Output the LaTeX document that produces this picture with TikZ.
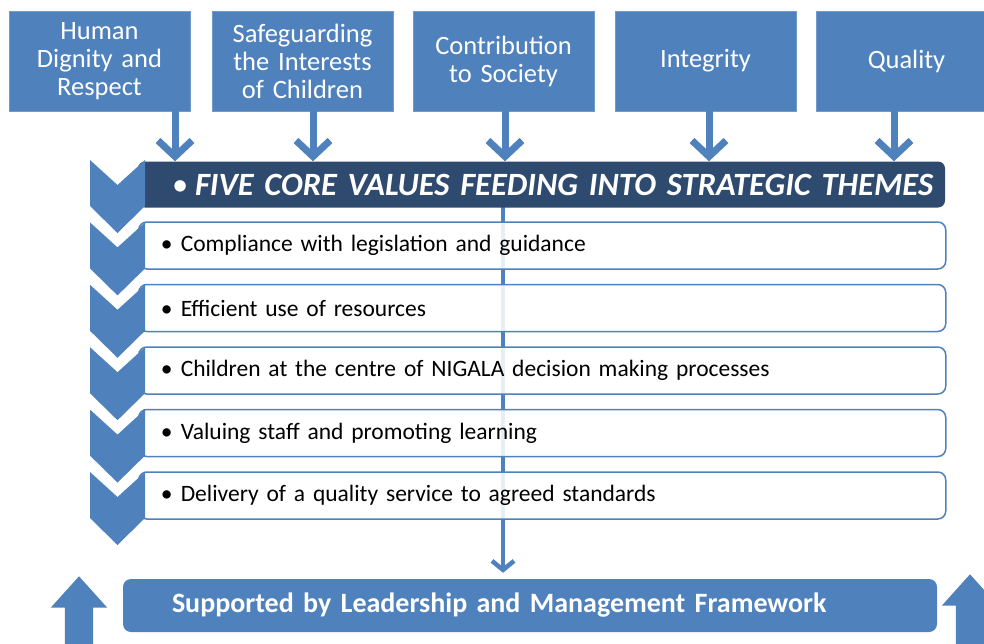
\documentclass[tikz,border=0pt]{standalone}
\usepackage{fontspec}
\setmainfont{Carlito}
\usetikzlibrary{arrows.meta, shapes.arrows}
\definecolor{coreblue}{HTML}{4F81BD}
\definecolor{themenavy}{HTML}{2E4A6E}
\tikzset{
	value/.style={rectangle, fill=coreblue, draw=coreblue!80!white, minimum width=181pt, minimum height=100pt, text width=178pt, align=center, text=white, inner sep=0pt, font=\fontsize{26.5}{28}\selectfont},
	feed/.style={draw=coreblue, line width=7pt, -{Straight Barb[length=16pt, width=34pt]}},
	spine/.style={draw=coreblue, line width=4.5pt, -{Straight Barb[length=9pt, width=22pt]}},
	theme/.style={rectangle, rounded corners=8pt, draw=coreblue, line width=1.5pt, fill=white, fill opacity=0.87, text opacity=1, minimum width=807pt, minimum height=47pt, text width=771pt, align=left, inner xsep=18pt, anchor=west, font=\fontsize{23.5}{26}\selectfont},
	chevron/.style={fill=coreblue},
	lift/.style={single arrow, fill=coreblue, rotate=90, anchor=tip, minimum height=80pt, inner xsep=0pt, inner ysep=14pt, single arrow head extend=14pt, single arrow tip angle=84}
}

\begin{document}
\begin{tikzpicture}[x=1pt, y=-1pt]
	\useasboundingbox (0,0) rectangle (984,643);
	\clip (0,0) rectangle (984,643);
	\node[rectangle, rounded corners=8pt, fill=coreblue, minimum width=814pt, minimum height=53pt, text width=716pt, inner xsep=49pt, align=left, text=white, font=\fontsize{28}{30}\selectfont\bfseries] (support) at (530,605.5) {Supported by Leadership and Management Framework};
	\coordinate (spinetop) at (503,190);
	\draw[spine, shorten >=6pt] (spinetop) -- (spinetop |- support.north);
	\foreach \i/\txt in {0/Compliance with legislation and guidance, 1/Efficient use of resources, 2/Children at the centre of NIGALA decision making processes, 3/Valuing staff and promoting learning, 4/Delivery of a quality service to agreed standards}
		\node[theme] (t\i) at (138,{245.5+62.5*\i}) {\makebox[24pt][l]{\hspace{4pt}\textbullet}\txt};
	\node[rectangle, rounded corners=7pt, fill=themenavy, minimum width=807pt, minimum height=46pt, text width=791pt, inner xsep=8pt, align=left, text=white, font=\fontsize{32.5}{34}\selectfont] (head) at (541.5,184.5) {\makebox[49pt][l]{\hspace{26pt}\textbullet}\textbf{\textit{FIVE CORE VALUES FEEDING INTO STRATEGIC THEMES}}};
	\foreach \i in {0,...,5}
		\fill[chevron] (90,{160+62.4*\i}) -- (117.5,{185+62.4*\i}) -- (145,{160+62.4*\i}) -- (145,{206+62.4*\i}) -- (117.5,{233+62.4*\i}) -- (90,{206+62.4*\i}) -- cycle;
	\node[value] (v1) at (99.5,61) {Human\\Dignity and\\Respect};
	\node[value] (v2) at (302.5,61) {Safeguarding\\the Interests\\of Children};
	\node[value] (v3) at (503.5,61) {Contribution\\to Society};
	\node[value] (v4) at (705.5,61) {Integrity};
	\node[value] (v5) at (906.5,61) {Quality};
	\foreach \i/\x in {1/175, 2/313, 3/505, 4/709, 5/894}
		\draw[feed] (\x,0 |- v\i.south) -- (\x,0 |- head.north);
	\node[lift] (liftleft) at (79,576) {};
	\node[lift] (liftright) at (970,574) {};
\end{tikzpicture}
\end{document}
